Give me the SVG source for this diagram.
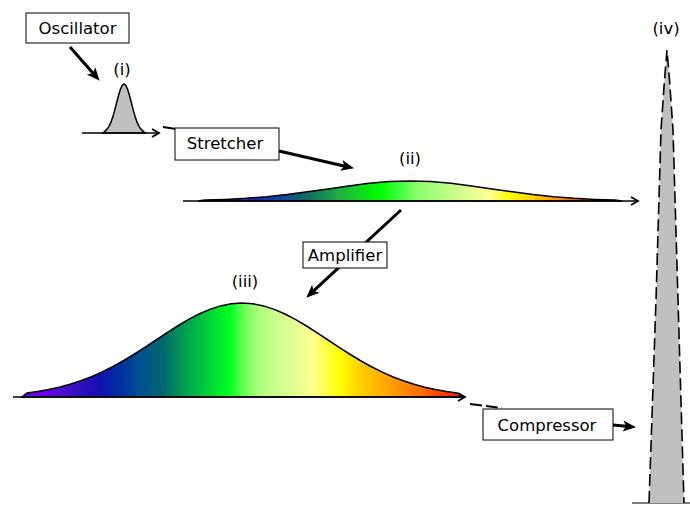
<svg xmlns="http://www.w3.org/2000/svg" width="690" height="506" viewBox="0 0 690 506">
<style>
.box{fill:#fff;stroke:#000;stroke-width:1}
.t{font-family:"DejaVu Sans",Verdana,sans-serif;font-size:16.5px;fill:#000;text-anchor:middle}
.lbl{font-family:"DejaVu Sans",Verdana,sans-serif;font-size:16.5px;fill:#000;text-anchor:middle}
.conn{stroke:#000;stroke-width:3;fill:none;marker-end:url(#big)}
.axis{stroke:#000;stroke-width:1.6;fill:none;marker-end:url(#chev)}
.curve{stroke:#000;stroke-width:1.5}
</style>
<defs>
<marker id="big" markerUnits="userSpaceOnUse" markerWidth="14" markerHeight="12" refX="6" refY="5.5" orient="auto" overflow="visible">
<path d="M0,0 L13,5.5 L0,11 L3,5.5 Z" fill="#000"/>
</marker>
<marker id="chev" markerUnits="userSpaceOnUse" markerWidth="10" markerHeight="10" refX="7" refY="4" orient="auto" overflow="visible">
<path d="M0,0 L7,4 L0,8" fill="none" stroke="#000" stroke-width="1.8"/>
</marker>
<linearGradient id="g2" gradientUnits="userSpaceOnUse" x1="205" y1="0" x2="615" y2="0">
<stop offset="0" stop-color="#202080"/>
<stop offset="0.085" stop-color="#2020c0"/>
<stop offset="0.183" stop-color="#1040a0"/>
<stop offset="0.256" stop-color="#107060"/>
<stop offset="0.329" stop-color="#20b040"/>
<stop offset="0.427" stop-color="#00ff00"/>
<stop offset="0.476" stop-color="#40ff40"/>
<stop offset="0.524" stop-color="#90ff70"/>
<stop offset="0.622" stop-color="#d0ff90"/>
<stop offset="0.695" stop-color="#ffff90"/>
<stop offset="0.744" stop-color="#ffff00"/>
<stop offset="0.817" stop-color="#ffc000"/>
<stop offset="0.866" stop-color="#ff9000"/>
<stop offset="0.915" stop-color="#ff5000"/>
<stop offset="1" stop-color="#ff3000"/>
</linearGradient>
<linearGradient id="g3" gradientUnits="userSpaceOnUse" x1="24" y1="0" x2="460" y2="0">
<stop offset="0" stop-color="#7000f0"/>
<stop offset="0.037" stop-color="#6a00f0"/>
<stop offset="0.083" stop-color="#5010d0"/>
<stop offset="0.128" stop-color="#3010c0"/>
<stop offset="0.174" stop-color="#1010b0"/>
<stop offset="0.220" stop-color="#0030a0"/>
<stop offset="0.266" stop-color="#005090"/>
<stop offset="0.323" stop-color="#006a6a"/>
<stop offset="0.369" stop-color="#00a050"/>
<stop offset="0.404" stop-color="#00c040"/>
<stop offset="0.438" stop-color="#00e030"/>
<stop offset="0.472" stop-color="#00ff20"/>
<stop offset="0.507" stop-color="#70ff58"/>
<stop offset="0.541" stop-color="#b0ff80"/>
<stop offset="0.587" stop-color="#d0ff90"/>
<stop offset="0.633" stop-color="#e8ff90"/>
<stop offset="0.661" stop-color="#ffff90"/>
<stop offset="0.690" stop-color="#ffff50"/>
<stop offset="0.725" stop-color="#ffff00"/>
<stop offset="0.771" stop-color="#ffd000"/>
<stop offset="0.817" stop-color="#ffb000"/>
<stop offset="0.862" stop-color="#ff9000"/>
<stop offset="0.908" stop-color="#ff7000"/>
<stop offset="0.954" stop-color="#ff4000"/>
<stop offset="1" stop-color="#ff2000"/>
</linearGradient>
</defs>

<g id="connectors">
<line class="conn" x1="70" y1="47" x2="95" y2="75.5"/>
<line class="conn" x1="279" y1="151" x2="347.2" y2="166.7"/>
<line class="conn" x1="401" y1="210" x2="311.4" y2="292.9"/>
<line class="conn" x1="613" y1="425" x2="629" y2="426.5"/>
<line x1="163" y1="127" x2="176" y2="129" stroke="#000" stroke-width="2"/>
<line x1="470" y1="404" x2="502" y2="408" stroke="#000" stroke-width="2" stroke-dasharray="12,4"/>
</g>

<g id="pulse-i">
<path class="curve" fill="#c0c0c0" d="M103,133 L105.25,130.85 L107.125,129.1 L109,126.4 L110.875,122.4 L112.75,117.1 L114.625,110.6 L116.5,103.3 L118.375,96 L120.25,89.8 L122.125,85.5 L124,84 L125.875,85.5 L127.75,89.8 L129.625,96 L131.5,103.3 L133.375,110.6 L135.25,117.1 L137.125,122.4 L139,126.4 L140.875,129.1 L142.75,130.85 L145,133 Z"/>
<line class="axis" x1="82" y1="133" x2="159" y2="133"/>
<text class="lbl" x="122" y="75">(i)</text>
</g>

<g id="spectrum-ii">
<path class="curve" fill="url(#g2)" d="M198,201 L205,200.1 L225.5,199.4 L246,198.3 L266.5,196.7 L287,194.5 L307.5,191.8 L328,188.9 L348.5,185.9 L369,183.35 L389.5,181.6 L410,181 L430.5,181.6 L451,183.35 L471.5,185.9 L492,188.9 L512.5,191.8 L533,194.5 L553.5,196.7 L574,198.3 L594.5,199.4 L615,200.1 L622,201 Z"/>
<line class="axis" x1="183" y1="201" x2="638" y2="201"/>
<text class="lbl" x="410" y="164">(ii)</text>
</g>

<g id="spectrum-iii">
<path class="curve" fill="url(#g3)" d="M22,397 L27,392.9 L37.75,391.4 L48.5,389.5 L59.25,387.2 L70,384.3 L80.75,380.8 L91.5,376.7 L102.25,371.9 L113,366.5 L123.75,360.5 L134.5,354 L145.25,347.1 L156,340 L166.75,332.9 L177.5,326 L188.25,319.7 L199,314 L209.75,309.4 L220.5,305.9 L231.25,303.7 L242,303 L252.75,303.7 L263.5,305.9 L274.25,309.4 L285,314 L295.75,319.7 L306.5,326 L317.25,332.9 L328,340 L338.75,347.1 L349.5,354 L360.25,360.5 L371,366.5 L381.75,371.9 L392.5,376.7 L403.25,380.8 L414,384.3 L424.75,387.2 L435.5,389.5 L446.25,391.4 L457,392.9 L462,397 Z"/>
<line class="axis" x1="13" y1="397" x2="465" y2="397"/>
<text class="lbl" x="245" y="287">(iii)</text>
</g>

<g id="pulse-iv">
<line x1="632" y1="503" x2="690" y2="503" stroke="#000" stroke-width="1"/>
<path fill="#c0c0c0" stroke="#000" stroke-width="1.6" stroke-dasharray="12,5" d="M649,503 L656,300 L661,130 L664.5,80 L667,50 L669.5,80 L673,130 L678,300 L684,503"/>
<text class="lbl" x="666" y="34">(iv)</text>
</g>

<g id="oscillator">
<rect class="box" x="26" y="13" width="103" height="30"/>
<text class="t" x="77.5" y="34">Oscillator</text>
</g>

<g id="stretcher">
<rect class="box" x="175" y="128" width="104" height="32"/>
<text class="t" x="225" y="149">Stretcher</text>
</g>

<g id="amplifier">
<rect class="box" x="303" y="242" width="84" height="26"/>
<text class="t" x="345" y="261">Amplifier</text>
</g>

<g id="compressor">
<rect class="box" x="483" y="409" width="130" height="31"/>
<text class="t" x="547" y="431">Compressor</text>
</g>
</svg>
